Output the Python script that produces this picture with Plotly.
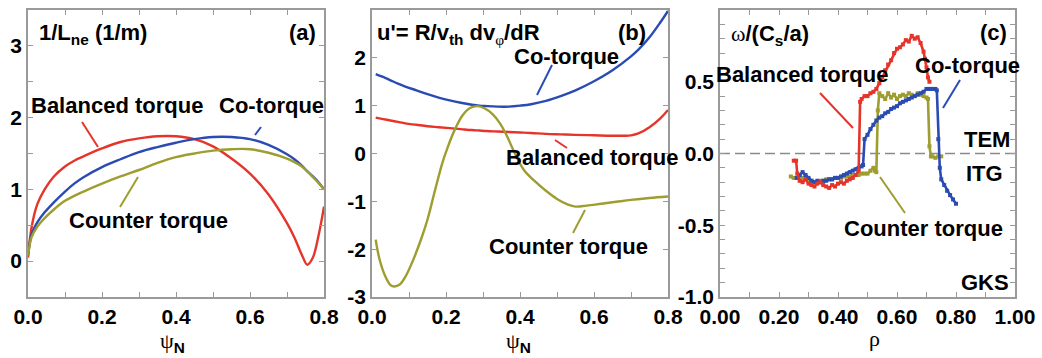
import plotly.graph_objects as go

# ---------------- data ----------------
# Panel (a): 1/L_ne vs psi_N
psi_a = [0.0, 0.01, 0.025, 0.045, 0.07, 0.1, 0.125, 0.15, 0.2, 0.25, 0.3, 0.35, 0.4, 0.45,
         0.5, 0.55, 0.6, 0.65, 0.7, 0.72, 0.74, 0.755, 0.77, 0.785, 0.8]
lne_balanced = [0.05, 0.48, 0.79, 1.00, 1.18, 1.32, 1.40, 1.46, 1.57, 1.66, 1.71, 1.74, 1.74, 1.70,
                1.60, 1.43, 1.22, 0.93, 0.53, 0.33, 0.09, -0.05, 0.05, 0.35, 0.76]
lne_co = [0.08, 0.38, 0.54, 0.68, 0.82, 0.97, 1.08, 1.17, 1.31, 1.42, 1.52, 1.59, 1.65, 1.70,
          1.73, 1.73, 1.70, 1.62, 1.49, 1.42, 1.33, 1.25, 1.18, 1.10, 1.00]
lne_counter = [0.08, 0.34, 0.48, 0.60, 0.72, 0.84, 0.91, 0.97, 1.08, 1.18, 1.27, 1.37, 1.45, 1.50,
               1.54, 1.56, 1.56, 1.51, 1.43, 1.38, 1.32, 1.25, 1.17, 1.09, 1.00]

# Panel (b): u' vs psi_N
psi_b = [0.01, 0.03, 0.05, 0.07, 0.09, 0.12, 0.15, 0.18, 0.21, 0.24, 0.27, 0.29, 0.31, 0.34,
         0.37, 0.40, 0.43, 0.47, 0.51, 0.55, 0.6, 0.65, 0.7, 0.72, 0.75, 0.78, 0.8]
u_co = [1.66, 1.60, 1.53, 1.46, 1.40, 1.32, 1.24, 1.17, 1.11, 1.06, 1.02, 1.00, 0.99, 0.98,
        0.98, 1.00, 1.03, 1.10, 1.20, 1.32, 1.51, 1.74, 2.03, 2.17, 2.43, 2.75, 2.98]
u_balanced = [0.75, 0.72, 0.69, 0.66, 0.63, 0.60, 0.57, 0.55, 0.53, 0.51, 0.49, 0.48, 0.47, 0.46,
              0.45, 0.44, 0.43, 0.41, 0.40, 0.39, 0.38, 0.37, 0.38, 0.42, 0.55, 0.74, 0.91]
psi_b_counter = [0.01, 0.02, 0.035, 0.05, 0.06, 0.075, 0.09, 0.11, 0.135, 0.15, 0.17, 0.19, 0.205,
                 0.225, 0.245, 0.265, 0.285, 0.305, 0.325, 0.345, 0.365, 0.385, 0.41, 0.44, 0.47,
                 0.5, 0.53, 0.55, 0.58, 0.62, 0.66, 0.7, 0.75, 0.8]
u_counter = [-1.80, -2.20, -2.55, -2.75, -2.78, -2.74, -2.58, -2.25, -1.74, -1.38, -0.78, -0.20, 0.14,
             0.52, 0.80, 0.95, 0.99, 0.94, 0.83, 0.64, 0.36, 0.02, -0.34, -0.58, -0.78,
             -0.95, -1.07, -1.11, -1.09, -1.05, -1.01, -0.97, -0.93, -0.90]

# Panel (c): GKS growth frequency vs rho
rho_balanced = [0.250, 0.258, 0.262, 0.27, 0.28, 0.29, 0.30, 0.31, 0.32, 0.33, 0.34, 0.35, 0.36,
                0.37, 0.38, 0.39, 0.40, 0.41, 0.42, 0.43, 0.44, 0.45, 0.46, 0.47, 0.475, 0.48,
                0.49, 0.50, 0.51, 0.52, 0.53, 0.54, 0.55, 0.56, 0.57, 0.58, 0.59, 0.60, 0.61,
                0.62, 0.63, 0.64, 0.65, 0.66, 0.67, 0.68, 0.69, 0.695, 0.70, 0.705, 0.71]
w_balanced = [-0.05, -0.05, -0.14, -0.19, -0.20, -0.18, -0.21, -0.22, -0.23, -0.21, -0.20, -0.22, -0.23,
              -0.24, -0.22, -0.23, -0.21, -0.20, -0.21, -0.19, -0.18, -0.17, -0.15, -0.12, 0.36, 0.38,
              0.40, 0.40, 0.42, 0.43, 0.45, 0.49, 0.53, 0.58, 0.62, 0.65, 0.70, 0.73, 0.74,
              0.76, 0.79, 0.78, 0.82, 0.80, 0.81, 0.77, 0.71, 0.66, 0.60, 0.53, 0.50]
rho_co = [0.26, 0.27, 0.28, 0.29, 0.30, 0.31, 0.32, 0.33, 0.34, 0.35, 0.36, 0.37, 0.38, 0.39, 0.40,
          0.41, 0.42, 0.43, 0.44, 0.45, 0.46, 0.47, 0.48, 0.485, 0.49, 0.50, 0.51, 0.52, 0.53,
          0.54, 0.55, 0.56, 0.57, 0.58, 0.59, 0.60, 0.61, 0.62, 0.63, 0.64, 0.65, 0.66, 0.67,
          0.68, 0.69, 0.70, 0.71, 0.72, 0.73, 0.735, 0.74, 0.745, 0.75, 0.76, 0.77, 0.78, 0.79, 0.80]
w_co = [-0.17, -0.15, -0.13, -0.15, -0.17, -0.19, -0.20, -0.19, -0.20, -0.19, -0.19, -0.18, -0.18,
        -0.17, -0.17, -0.16, -0.15, -0.14, -0.13, -0.12, -0.11, -0.10, -0.09, -0.08, 0.10, 0.13,
        0.17, 0.20, 0.23, 0.25, 0.26, 0.28, 0.29, 0.31, 0.32, 0.33, 0.35, 0.36, 0.37, 0.38, 0.39,
        0.40, 0.41, 0.42, 0.43, 0.45, 0.45, 0.45, 0.45, 0.44, 0.10, -0.10, -0.18, -0.22, -0.26,
        -0.29, -0.32, -0.35]
rho_counter = [0.24, 0.25, 0.26, 0.27, 0.28, 0.29, 0.30, 0.31, 0.32, 0.33, 0.34, 0.35, 0.36, 0.37,
               0.38, 0.39, 0.40, 0.41, 0.42, 0.43, 0.44, 0.45, 0.46, 0.47, 0.48, 0.49, 0.50, 0.51,
               0.52, 0.525, 0.53, 0.535, 0.54, 0.55, 0.56, 0.57, 0.58, 0.59, 0.60, 0.61, 0.62,
               0.63, 0.64, 0.65, 0.66, 0.67, 0.68, 0.69, 0.70, 0.705, 0.71, 0.715, 0.72, 0.73,
               0.74, 0.75]
w_counter = [-0.16, -0.17, -0.17, -0.16, -0.17, -0.16, -0.18, -0.19, -0.20, -0.20, -0.19, -0.19, -0.18,
             -0.18, -0.18, -0.17, -0.17, -0.17, -0.16, -0.16, -0.16, -0.15, -0.15, -0.15, -0.14,
             -0.14, -0.14, -0.12, -0.10, -0.12, -0.13, 0.30, 0.42, 0.40, 0.38, 0.42, 0.39, 0.41,
             0.38, 0.40, 0.41, 0.40, 0.42, 0.41, 0.40, 0.42, 0.41, 0.40, 0.39, 0.38, 0.05, -0.02,
             -0.02, -0.03, -0.02, -0.02]
zero_line_x = [0.0, 1.0]
zero_line_y = [0.0, 0.0]

# tick labels
ticks_psi = [0.0, 0.2, 0.4, 0.6, 0.8]
ticks_psi_text = ["0.0", "0.2", "0.4", "0.6", "0.8"]
ticks_a_y = [0, 1, 2, 3]
ticks_a_y_text = ["0", "1", "2", "3"]
ticks_b_y = [-3, -2, -1, 0, 1, 2, 3]
ticks_b_y_text = ["-3", "-2", "-1", "0", "1", "2", "3"]
ticks_rho = [0.0, 0.2, 0.4, 0.6, 0.8, 1.0]
ticks_rho_text = ["0.00", "0.20", "0.40", "0.60", "0.80", "1.00"]
ticks_c_y = [-1.0, -0.5, 0.0, 0.5, 1.0]
ticks_c_y_text = ["-1.0", "-0.5", "0.0", "0.5", "1.0"]

# ---------------- style ----------------
W, H = 1042, 358
RED = "#e5352b"
BLUE = "#2a4bb2"
OLIVE = "#9d9d30"
FRAME = "#9a9a9a"
FONT = "Liberation Sans, Arial, sans-serif"


def px(x):
    return x / W


def py(y):
    return 1 - y / H


fig = go.Figure()

smooth = dict(shape="spline", smoothing=1.0, width=2.4)
fig.add_trace(go.Scatter(x=psi_a, y=lne_balanced, mode="lines", line=dict(color=RED, **smooth),
                         xaxis="x", yaxis="y"))
fig.add_trace(go.Scatter(x=psi_a, y=lne_co, mode="lines", line=dict(color=BLUE, **smooth),
                         xaxis="x", yaxis="y"))
fig.add_trace(go.Scatter(x=psi_a, y=lne_counter, mode="lines", line=dict(color=OLIVE, **smooth),
                         xaxis="x", yaxis="y"))

fig.add_trace(go.Scatter(x=psi_b, y=u_co, mode="lines", line=dict(color=BLUE, **smooth),
                         xaxis="x2", yaxis="y2"))
fig.add_trace(go.Scatter(x=psi_b, y=u_balanced, mode="lines", line=dict(color=RED, **smooth),
                         xaxis="x2", yaxis="y2"))
fig.add_trace(go.Scatter(x=psi_b_counter, y=u_counter, mode="lines", line=dict(color=OLIVE, **smooth),
                         xaxis="x2", yaxis="y2"))

fig.add_trace(go.Scatter(x=zero_line_x, y=zero_line_y, mode="lines",
                         line=dict(color="#8a8a8a", width=1.3, dash="10px,5px"),
                         xaxis="x3", yaxis="y3"))
noisy = dict(mode="lines+markers", marker=dict(symbol="square", size=4), xaxis="x3", yaxis="y3")
fig.add_trace(go.Scatter(x=rho_counter, y=w_counter, line=dict(color=OLIVE, width=2.6),
                         marker_color=OLIVE, **noisy))
fig.add_trace(go.Scatter(x=rho_co, y=w_co, line=dict(color=BLUE, width=2.6),
                         marker_color=BLUE, **noisy))
fig.add_trace(go.Scatter(x=rho_balanced, y=w_balanced, line=dict(color=RED, width=2.6),
                         marker_color=RED, **noisy))

axis_common = dict(showline=True, linecolor=FRAME, linewidth=1.5, mirror="allticks",
                   ticks="inside", ticklen=5, tickwidth=1.3, tickcolor=FRAME,
                   showgrid=False, zeroline=False, fixedrange=True, automargin=False,
                   tickfont=dict(family=FONT, size=21, color="black", weight="bold"))
minor_common = dict(ticks="inside", ticklen=5, tickcolor=FRAME, tickwidth=1.3)

y_dom = [py(297), py(10)]
fig.update_layout(
    template="none",
    width=W, height=H, autosize=False,
    margin=dict(l=0, r=0, t=0, b=0, pad=0),
    paper_bgcolor="white", plot_bgcolor="white",
    showlegend=False,
    font=dict(family=FONT, size=21, color="black", weight="bold"),
    xaxis=dict(domain=[px(28), px(324)], range=[0, 0.8], anchor="y",
               tickvals=ticks_psi, ticktext=ticks_psi_text,
               minor=dict(dtick=0.1, **minor_common), **axis_common),
    yaxis=dict(domain=y_dom, range=[-0.5, 3.5], anchor="x",
               tickvals=ticks_a_y, ticktext=ticks_a_y_text,
               minor=dict(dtick=0.5, **minor_common), **axis_common),
    xaxis2=dict(domain=[px(372), px(668)], range=[0, 0.8], anchor="y2",
                tickvals=ticks_psi, ticktext=ticks_psi_text,
                minor=dict(dtick=0.1, **minor_common), **axis_common),
    yaxis2=dict(domain=y_dom, range=[-3, 3], anchor="x2",
                tickvals=ticks_b_y, ticktext=ticks_b_y_text, **axis_common),
    xaxis3=dict(domain=[px(720), px(1015)], range=[0, 1], anchor="y3",
                tickvals=ticks_rho, ticktext=ticks_rho_text,
                minor=dict(dtick=0.1, **minor_common), **axis_common),
    yaxis3=dict(domain=y_dom, range=[-1, 1], anchor="x3",
                tickvals=ticks_c_y, ticktext=ticks_c_y_text,
                minor=dict(dtick=0.1, **minor_common), **axis_common),
)

SERIF = "font-family:Liberation Serif, Times New Roman, serif;font-weight:normal"
labels = [
    # text, x, y, xanchor
    ("1/L<sub>ne</sub> (1/m)", 37, 34, "left"),
    ("(a)", 302, 32, "center"),
    ("Balanced torque", 117, 106, "center"),
    ("Co-torque", 271, 106, "center"),
    ("Counter torque", 148, 220, "center"),
    ("u'= R/v<sub>th</sub> dv<sub><span style='%s'>φ</span></sub>/dR" % SERIF, 375, 34, "left"),
    ("(b)", 632, 32, "center"),
    ("Co-torque", 566, 57, "center"),
    ("Balanced torque", 592, 158, "center"),
    ("Counter torque", 568, 246, "center"),
    ("<span style='%s'>ω</span>/(C<sub>s</sub>/a)" % SERIF, 729, 35, "left"),
    ("(c)", 993, 32, "center"),
    ("Balanced torque", 802, 75, "center"),
    ("Co-torque", 967, 65, "center"),
    ("TEM", 987, 140, "center"),
    ("ITG", 984, 173, "center"),
    ("Counter torque", 923, 228, "center"),
    ("GKS", 985, 282, "center"),
    ("<span style='%s'>ψ</span><sub>N</sub>" % SERIF, 172, 342, "center"),
    ("<span style='%s'>ψ</span><sub>N</sub>" % SERIF, 518, 342, "center"),
    ("<span style='%s'>ρ</span>" % SERIF, 874, 338, "center"),
]
for text, x, y, xa in labels:
    fig.add_annotation(text=text, x=px(x), y=py(y), xref="paper", yref="paper",
                       xanchor=xa, yanchor="middle", showarrow=False,
                       font=dict(family=FONT, size=22, color="black", weight="bold"))

pointers = [
    (82, 122, 98, 147, RED),
    (255, 135, 261, 127, BLUE),
    (120, 207, 138, 177, OLIVE),
    (537, 95, 552, 65, BLUE),
    (555, 140, 567, 148, RED),
    (573, 233, 585, 210, OLIVE),
    (820, 93, 853, 128, RED),
    (943, 108, 960, 80, BLUE),
    (880, 177, 905, 213, OLIVE),
]
for x0, y0, x1, y1, c in pointers:
    fig.add_shape(type="line", xref="paper", yref="paper",
                  x0=px(x0), y0=py(y0), x1=px(x1), y1=py(y1),
                  line=dict(color=c, width=2))

page_fix = ("document.documentElement.style.margin='0';document.documentElement.style.padding='0';"
            "document.body.style.margin='0';document.body.style.padding='0';"
            "document.documentElement.style.overflow='hidden';")
fig.write_html("out.html", post_script=page_fix, config={"displayModeBar": False})
